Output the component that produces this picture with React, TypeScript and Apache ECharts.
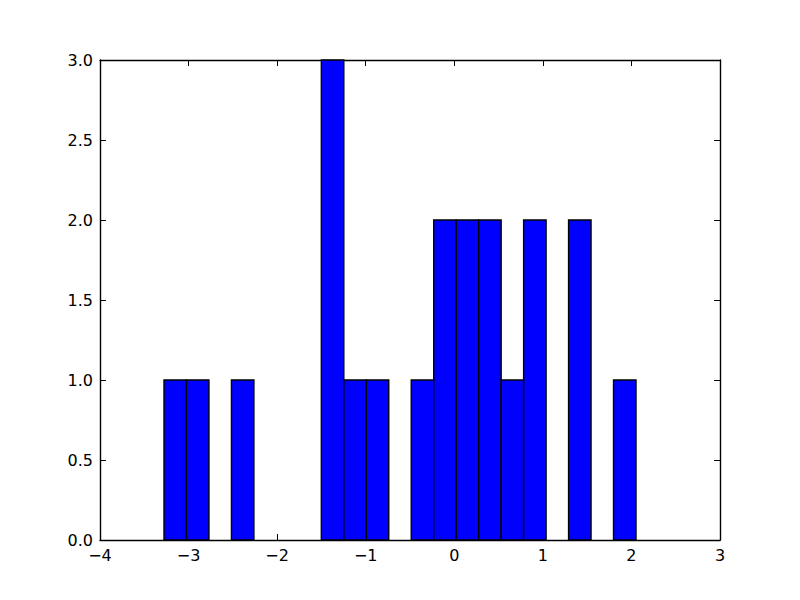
import React, { useEffect, useRef } from "react";
import * as echarts from "echarts";

const binEdges = [
  -3.2774, -3.0236, -2.7699, -2.5161, -2.2624, -2.0086, -1.7548, -1.5011,
  -1.2473, -0.9936, -0.7398, -0.486, -0.2323, 0.0215, 0.2752, 0.529, 0.7828,
  1.0365, 1.2903, 1.544, 1.7978, 2.0516,
];
const counts = [1, 1, 0, 1, 0, 0, 0, 3, 1, 1, 0, 1, 2, 2, 2, 1, 2, 0, 2, 0, 1];
const xTicks = [-4, -3, -2, -1, 0, 1, 2, 3];
const yTicks = [0, 0.5, 1, 1.5, 2, 2.5, 3];

const FONT = "DejaVu Sans";

export default function App() {
  const ref = useRef<HTMLDivElement>(null);
  useEffect(() => {
    if (!ref.current) return;
    const chart = echarts.init(ref.current, undefined, { renderer: "svg" });
    const data = counts
      .map((c, i) => [binEdges[i], binEdges[i + 1], c])
      .filter((d) => d[2] > 0);
    const fmtX = (v: number) => String(v).replace("-", "\u2212");
    const fmtY = (v: number) => v.toFixed(1);
    const tickStyle = { show: true, inside: true, length: 6, lineStyle: { color: "#000", width: 1 } };
    const lineStyle = { show: true, lineStyle: { color: "#000", width: 1.4 } };
    chart.setOption({
      animation: false,
      backgroundColor: "#fff",
      grid: { left: 100, right: 80, top: 60, bottom: 60, containLabel: false },
      xAxis: [
        {
          type: "value",
          min: xTicks[0],
          max: xTicks[xTicks.length - 1],
          interval: 1,
          position: "bottom",
          axisLine: { ...lineStyle, onZero: false },
          axisTick: tickStyle,
          splitLine: { show: false },
          axisLabel: { formatter: fmtX, color: "#000", fontFamily: FONT, fontSize: 16, margin: 7 },
        },
        {
          type: "value",
          min: xTicks[0],
          max: xTicks[xTicks.length - 1],
          interval: 1,
          position: "top",
          axisLine: { ...lineStyle, onZero: false },
          axisTick: tickStyle,
          splitLine: { show: false },
          axisLabel: { show: false },
        },
      ],
      yAxis: [
        {
          type: "value",
          min: yTicks[0],
          max: yTicks[yTicks.length - 1],
          interval: 0.5,
          position: "left",
          axisLine: { ...lineStyle, onZero: false },
          axisTick: tickStyle,
          splitLine: { show: false },
          axisLabel: { formatter: fmtY, color: "#000", fontFamily: FONT, fontSize: 16, margin: 7 },
        },
        {
          type: "value",
          min: yTicks[0],
          max: yTicks[yTicks.length - 1],
          interval: 0.5,
          position: "right",
          axisLine: { ...lineStyle, onZero: false },
          axisTick: tickStyle,
          splitLine: { show: false },
          axisLabel: { show: false },
        },
      ],
      series: [
        {
          type: "custom",
          xAxisIndex: 0,
          yAxisIndex: 0,
          data,
          encode: { x: [0, 1], y: 2 },
          renderItem: (params: any, api: any) => {
            const p0 = api.coord([api.value(0), api.value(2)]);
            const p1 = api.coord([api.value(1), 0]);
            return {
              type: "rect",
              shape: { x: p0[0], y: p0[1], width: p1[0] - p0[0], height: p1[1] - p0[1] },
              style: { fill: "#0000ff", stroke: "#000", lineWidth: 1.4 },
            };
          },
        },
      ],
    });
    return () => chart.dispose();
  }, []);
  return (
    <div
      ref={ref}
      style={{ position: "fixed", left: 0, top: 0, width: 800, height: 600, background: "#fff" }}
    />
  );
}
